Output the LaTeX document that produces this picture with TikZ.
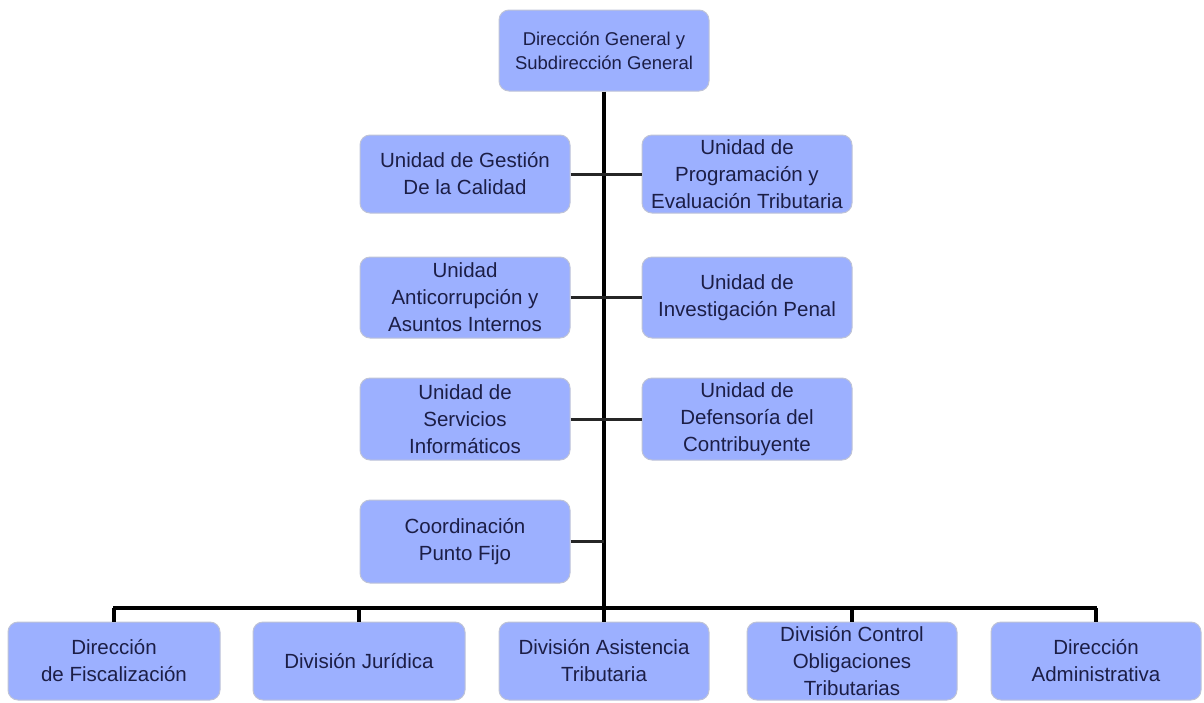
\documentclass[tikz,border=0pt]{standalone}
\usepackage{fontspec}
\setmainfont{Liberation Sans}
\definecolor{boxfill}{RGB}{156,176,255}
\definecolor{boxedge}{RGB}{190,195,215}
\definecolor{boxtext}{RGB}{28,30,70}
\begin{document}
\begin{tikzpicture}[x=1pt,y=-1pt,
  orgbox/.style={rectangle, rounded corners=10pt, fill=boxfill, draw=boxedge, line width=1pt,
    minimum width=210pt, minimum height=80pt, inner sep=2pt, align=center, text=boxtext,
    font=\fontsize{20.5}{27}\selectfont},
  topbox/.style={orgbox, font=\fontsize{18.5}{24}\selectfont},
  trunk/.style={line width=3.5pt, black},
  branch/.style={line width=3pt, black!85}]
\useasboundingbox (0,0) rectangle (1204,702);
\node[topbox, minimum height=81pt] (top) at (604,50.5) {Dirección General y\\Subdirección General};
\node[orgbox, minimum height=78pt] (r1L) at (465,174) {Unidad de Gestión\\De la Calidad};
\node[orgbox, minimum height=78pt] (r1R) at (747,174) {Unidad de\\Programación y\\Evaluación Tributaria};
\node[orgbox, minimum height=81pt] (r2L) at (465,297.5) {Unidad\\Anticorrupción y\\Asuntos Internos};
\node[orgbox, minimum height=81pt] (r2R) at (747,297.5) {Unidad de\\Investigación Penal};
\node[orgbox, minimum height=82pt] (r3L) at (465,419) {Unidad de\\Servicios\\Informáticos};
\node[orgbox, minimum height=82pt] (r3R) at (747,419) {Unidad de\\Defensoría del\\Contribuyente};
\node[orgbox, minimum height=83pt] (r4L) at (465,541.5) {Coordinación\\Punto Fijo};
\node[orgbox, minimum width=212pt, minimum height=78pt] (b1) at (114,661) {Dirección\\de Fiscalización};
\node[orgbox, minimum width=212pt, minimum height=78pt] (b2) at (359,661) {División Jurídica};
\node[orgbox, minimum height=78pt] (b3) at (604,661) {División Asistencia\\Tributaria};
\node[orgbox, minimum height=78pt] (b4) at (852,661) {División Control\\Obligaciones\\Tributarias};
\node[orgbox, minimum height=78pt] (b5) at (1096,661) {Dirección\\Administrativa};
\coordinate (busL) at (113,608);
\coordinate (busR) at (1097,608);
\coordinate (busM) at (604,608);
\draw[trunk] (top.south) -- (busM);
\draw[trunk] (busL) -- (busR);
\draw[branch] (r1L.east) -- (r1R.west);
\draw[branch] (r2L.east) -- (r2R.west);
\draw[branch] (r3L.east) -- (r3R.west);
\draw[branch] (r4L.east) -- (r4L.east -| busM);
\foreach \b in {b1,b2,b3,b4,b5} \draw[trunk] (\b.north) -- (\b.north |- busL);
\end{tikzpicture}
\end{document}
